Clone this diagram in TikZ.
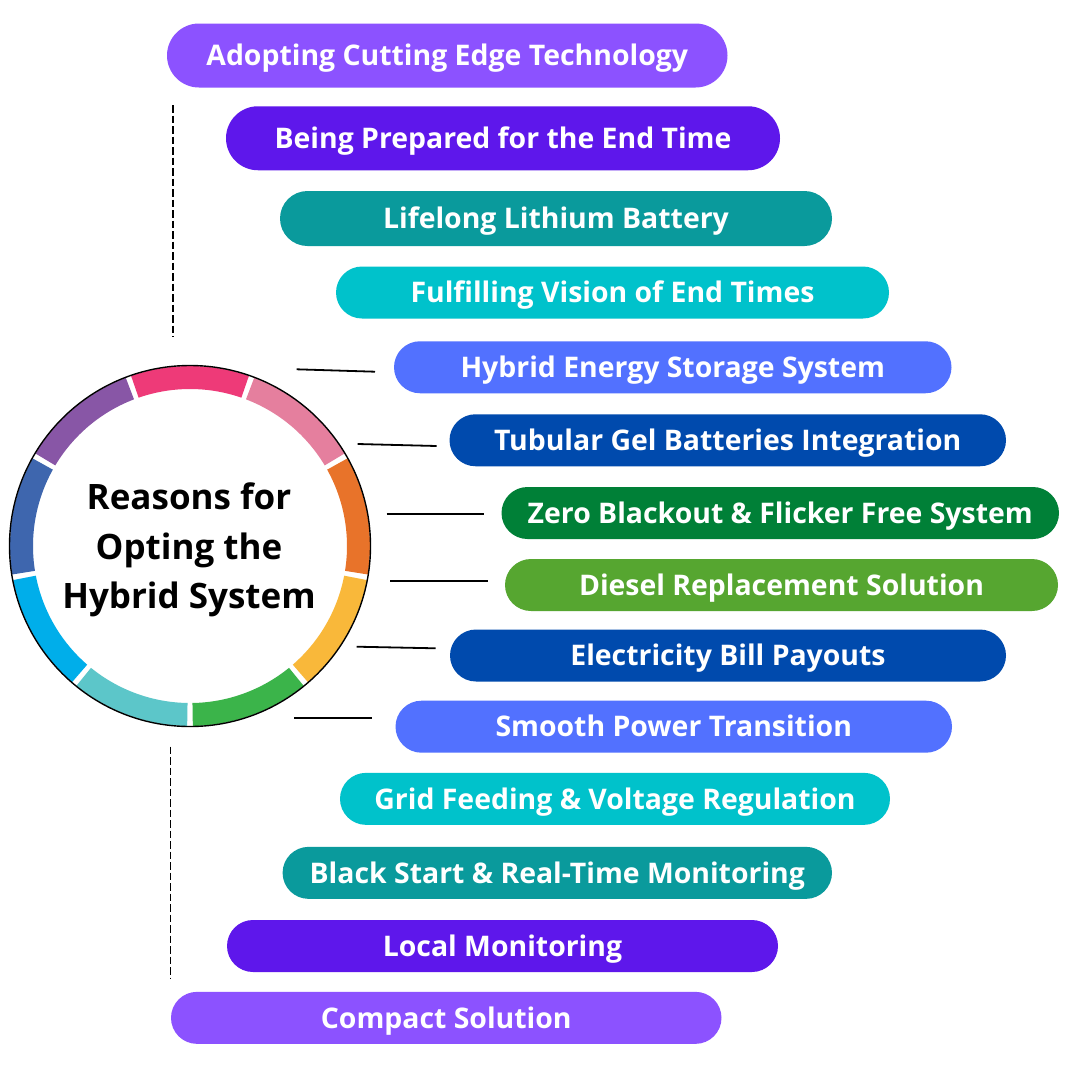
\documentclass[tikz,border=0pt]{standalone}
\usepackage{fontspec}
\setmainfont{Open Sans}
\definecolor{cViolet}{HTML}{8C52FF}
\definecolor{cPurple}{HTML}{5E17EB}
\definecolor{cTeal}{HTML}{0A9A9C}
\definecolor{cCyan}{HTML}{00C2CB}
\definecolor{cBlue}{HTML}{5271FF}
\definecolor{cNavy}{HTML}{004AAD}
\definecolor{cGreen}{HTML}{008037}
\definecolor{cLime}{HTML}{56A630}
\definecolor{rRed}{HTML}{EE3A78}
\definecolor{rPink}{HTML}{E57F9E}
\definecolor{rOrange}{HTML}{E8732A}
\definecolor{rYellow}{HTML}{F9B83A}
\definecolor{rGreen}{HTML}{3BB44A}
\definecolor{rTeal}{HTML}{5CC6C9}
\definecolor{rCyan}{HTML}{00AEEA}
\definecolor{rBlue}{HTML}{3E66AE}
\definecolor{rPurple}{HTML}{8856A6}
\begin{document}
\begin{tikzpicture}[x=1pt,y=-1pt,
  pill/.style={draw=none, inner sep=0pt, text=white,
    font=\fontsize{28.4}{33}\selectfont\bfseries,
    text height=20.3pt, text depth=0pt},
  conn/.style={line width=1.8pt, black},
  dashline/.style={line width=1.7pt, black, dash pattern=on 7.5pt off 3pt},
  ring/.style={line width=0pt}
]
\useasboundingbox[fill=white] (0,0) rectangle (1080,1080);

% ring
\begin{scope}[shift={(190,546)}]
  \def\Ro{180pt}\def\Ri{157pt}\def\g{0.9}
  \foreach \a/\c in {110/rRed,70/rPink,30/rOrange,-10/rYellow,-50/rGreen,-90/rTeal,-130/rCyan,-170/rBlue,150/rPurple}{
    \pgfmathsetmacro{\s}{\a-\g}
    \pgfmathsetmacro{\e}{\a-40+\g}
    \fill[\c] (\s:\Ro) arc[start angle=\s, end angle=\e, radius=\Ro]
      -- (\e:\Ri) arc[start angle=\e, end angle=\s, radius=\Ri] -- cycle;
  }
  \draw[line width=1.4pt, black] (0,0) circle[radius=180.5pt];
\end{scope}
\node[font=\fontsize{35}{49.5}\selectfont\bfseries, align=center, inner sep=0pt] (title) at (189,550) {Reasons for\\Opting the\\Hybrid System};

% pills
\node[pill, fill=cViolet, minimum width=560.5pt, minimum height=64pt, rounded corners=32pt] (p1) at (447.25,55.5) {Adopting Cutting Edge Technology};
\node[pill, fill=cPurple, minimum width=554pt, minimum height=64pt, rounded corners=32pt] (p2) at (503,138.25) {Being Prepared for the End Time};
\node[pill, fill=cTeal, minimum width=552pt, minimum height=55pt, rounded corners=27.5pt] (p3) at (556,218.5) {Lifelong Lithium Battery};
\node[pill, fill=cCyan, minimum width=553pt, minimum height=52pt, rounded corners=26pt] (p4) at (612.5,292.5) {Fulfilling Vision of End Times};
\node[pill, fill=cBlue, minimum width=557.5pt, minimum height=52pt, rounded corners=26pt] (p5) at (672.75,367.25) {Hybrid Energy Storage System};
\node[pill, fill=cNavy, minimum width=556.5pt, minimum height=52pt, rounded corners=26pt] (p6) at (727.75,440.25) {Tubular Gel Batteries Integration};
\node[pill, fill=cGreen, minimum width=557.5pt, minimum height=52pt, rounded corners=26pt] (p7) at (780.25,513) {Zero Blackout \& Flicker Free System};
\node[pill, fill=cLime, minimum width=553pt, minimum height=52pt, rounded corners=26pt] (p8) at (781.5,585) {Diesel Replacement Solution};
\node[pill, fill=cNavy, minimum width=556pt, minimum height=52pt, rounded corners=26pt] (p9) at (728,655.5) {Electricity Bill Payouts};
\node[pill, fill=cBlue, minimum width=556.5pt, minimum height=52pt, rounded corners=26pt] (p10) at (673.75,726.7) {Smooth Power Transition};
\node[pill, fill=cCyan, minimum width=550pt, minimum height=52pt, rounded corners=26pt] (p11) at (615,798.85) {Grid Feeding \& Voltage Regulation};
\node[pill, fill=cTeal, minimum width=549.4pt, minimum height=52pt, rounded corners=26pt] (p12) at (557.3,872.85) {Black Start \& Real-Time Monitoring};
\node[pill, fill=cPurple, minimum width=551pt, minimum height=52pt, rounded corners=26pt] (p13) at (502.5,946) {Local Monitoring};
\node[pill, fill=cViolet, minimum width=550.5pt, minimum height=52pt, rounded corners=26pt] (p14) at (446.25,1017.85) {Compact Solution};

% connectors
\coordinate (c5a) at (296.7,369.3); \coordinate (c5b) at (375,371.7);
\coordinate (c6a) at (357.7,444);   \coordinate (c6b) at (436.7,446);
\coordinate (c7a) at (386.7,514);   \coordinate (c7b) at (484.3,514);
\coordinate (c8a) at (390,581);     \coordinate (c8b) at (488.3,581);
\coordinate (c9a) at (356.7,646.7); \coordinate (c9b) at (435.7,648.3);
\coordinate (c10a) at (294,718.3);  \coordinate (c10b) at (371.7,718.3);
\draw[conn] (c5a) -- (c5b);
\draw[conn] (c6a) -- (c6b);
\draw[conn] (c7a) -- (c7b);
\draw[conn] (c8a) -- (c8b);
\draw[conn] (c9a) -- (c9b);
\draw[conn] (c10a) -- (c10b);

% dashed guides
\coordinate (d1a) at (173.3,105);  \coordinate (d1b) at (173.3,336.7);
\coordinate (d2a) at (170.5,746.7); \coordinate (d2b) at (170.5,978);
\draw[dashline] (d1a) -- (d1b);
\draw[dashline] (d2a) -- (d2b);
\end{tikzpicture}
\end{document}
